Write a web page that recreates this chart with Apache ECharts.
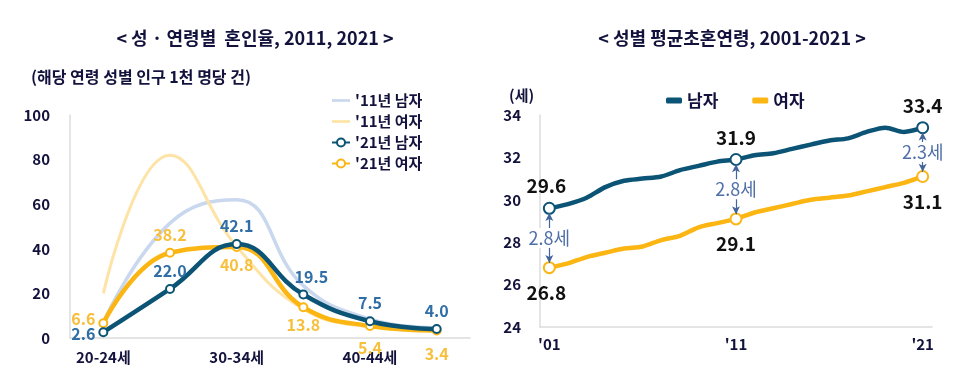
<!DOCTYPE html>
<html><head><meta charset="utf-8">
<script src="https://cdn.jsdelivr.net/npm/echarts@6/dist/echarts.min.js"></script>
<style>html,body{margin:0;padding:0;background:#fff}#c{width:964px;height:385px}</style>
</head><body><div id="c"></div>
<script>
// ---- Left chart data ----
const ageCats = ['20-24세','25-29세','30-34세','35-39세','40-44세','45-49세'];
const male2011 = [7.0, 51.5, 62.0, 23.5, 8.5, 4.5];
const female2011 = [20.0, 82.0, 41.0, 13.0, 5.0, 3.2];
const male2021 = [2.6, 22.0, 42.1, 19.5, 7.5, 4.0];
const female2021 = [6.6, 38.2, 40.8, 13.8, 5.4, 3.4];
const leftYTicks = [0, 20, 40, 60, 80, 100];

// ---- Right chart data ----
const years = ["'01","'02","'03","'04","'05","'06","'07","'08","'09","'10","'11","'12","'13","'14","'15","'16","'17","'18","'19","'20","'21"];
const maleAge = [29.6,29.8,30.1,30.6,30.9,31.0,31.1,31.4,31.6,31.8,31.9,32.1,32.2,32.4,32.6,32.8,32.9,33.2,33.4,33.2,33.4];
const femaleAge = [26.8,27.0,27.3,27.5,27.7,27.8,28.1,28.3,28.7,28.9,29.1,29.4,29.6,29.8,30.0,30.1,30.2,30.4,30.6,30.8,31.1];
const markIdx = [0, 10, 20];

const FONT = '"Noto Sans CJK KR", "Noto Sans", sans-serif';
const NAVY = '#12123c';
const C_M21 = '#0c5475', C_F21 = '#fbb614', C_M11 = '#c9d8ee', C_F11 = '#fde3a6';
const LBL_M = '#2f6ea6', LBL_F = '#f7bf3c';

const m21Pos = [{position:'left',offset:[2,2]},{position:'top'},{position:'top'},{position:'top',offset:[8,0]},{position:'top'},{position:'top'}];
const f21Pos = [{position:'left',offset:[2,-4]},{position:'top'},{position:'bottom'},{position:'bottom'},{position:'bottom',distance:9},{position:'bottom',distance:11}];

function leftData(vals, pos, color) {
  return vals.map((v, i) => ({value: v, label: Object.assign({show: true, color: color, fontSize: 16, fontWeight: 'bold', fontFamily: FONT,
    formatter: p => Number(p.value).toFixed(1)}, pos[i])}));
}

function rightData(vals, above) {
  return vals.map((v, i) => markIdx.includes(i)
    ? {value: v, label: {show: true, position: above ? 'top' : 'bottom', distance: above ? 6 : 9, offset: i === 0 ? [-3, 0] : [0, 0],
        color: '#111', fontSize: 19, fontWeight: 'bold', fontFamily: FONT, formatter: p => Number(p.value).toFixed(1)}}
    : {value: v, symbol: 'none'});
}

const gapLines = markIdx.map(i => [{coord: [i, maleAge[i] - 0.22]}, {coord: [i, femaleAge[i] + 0.22]}]);
const gapText = markIdx.map(i => ({coord: [i, (maleAge[i] + femaleAge[i]) / 2], value: (maleAge[i] - femaleAge[i]).toFixed(1) + '세'}));

const thinLine = 'path://M0,0 L20,0 L20,3 L0,3 Z';

const chart = echarts.init(document.getElementById('c'), null, {renderer: 'canvas'});
chart.setOption({
  animation: false,
  backgroundColor: '#fff',
  textStyle: {fontFamily: FONT},
  title: [
    {text: '< 성 · 연령별  혼인율, 2011, 2021 >', left: 250, top: 24, textAlign: 'center', textStyle: {fontSize: 18, fontWeight: 'bold', color: NAVY, fontFamily: FONT}},
    {text: '(해당 연령 성별 인구 1천 명당 건)', left: 26, top: 64, textStyle: {fontSize: 16, fontWeight: 'bold', color: NAVY, fontFamily: FONT}},
    {text: '< 성별 평균초혼연령, 2001-2021 >', left: 727, top: 24, textAlign: 'center', textStyle: {fontSize: 18, fontWeight: 'bold', color: NAVY, fontFamily: FONT}},
    {text: '(세)', left: 504, top: 83, textStyle: {fontSize: 15, fontWeight: 'bold', color: NAVY, fontFamily: FONT}}
  ],
  legend: [
    {data: [{name: "'11년 남자", icon: thinLine}, {name: "'11년 여자", icon: thinLine}, "'21년 남자", "'21년 여자"],
     orient: 'vertical', left: 326, top: 88, itemGap: 6, itemWidth: 18, itemHeight: 10,
     textStyle: {fontSize: 15, fontWeight: 'bold', color: NAVY, fontFamily: FONT}},
    {data: ['남자', '여자'], left: 661, top: 87, itemGap: 34, itemWidth: 16, itemHeight: 6, icon: 'roundRect',
     textStyle: {fontSize: 17, fontWeight: 'bold', color: NAVY, fontFamily: FONT}}
  ],
  grid: [
    {left: 70, right: 494, top: 115, bottom: 47},
    {left: 540, right: 32, top: 115, bottom: 58}
  ],
  xAxis: [
    {type: 'category', gridIndex: 0, data: ageCats, boundaryGap: true,
     axisLine: {lineStyle: {color: '#dcdcdc', width: 1.5}}, axisTick: {show: false},
     axisLabel: {interval: 1, margin: 12, fontSize: 15, fontWeight: 'bold', color: NAVY, fontFamily: FONT},
     splitLine: {show: false}},
    {type: 'category', gridIndex: 1, data: years, boundaryGap: true,
     axisLine: {lineStyle: {color: '#dcdcdc', width: 1.5}}, axisTick: {show: false},
     axisLabel: {interval: 9, margin: 10, fontSize: 15, fontWeight: 'bold', color: NAVY, fontFamily: FONT},
     splitLine: {show: false}}
  ],
  yAxis: [
    {type: 'value', gridIndex: 0, min: leftYTicks[0], max: leftYTicks[leftYTicks.length - 1], interval: 20,
     axisLine: {show: true, lineStyle: {color: '#dcdcdc', width: 1.5}}, axisTick: {show: false}, splitLine: {show: false},
     axisLabel: {margin: 20, fontSize: 15, fontWeight: 'bold', color: NAVY, fontFamily: FONT}},
    {type: 'value', gridIndex: 1, min: 24, max: 34, interval: 2,
     axisLine: {show: true, lineStyle: {color: '#dcdcdc', width: 1.5}}, axisTick: {show: false}, splitLine: {show: false},
     axisLabel: {margin: 19, fontSize: 15, fontWeight: 'bold', color: NAVY, fontFamily: FONT}}
  ],
  series: [
    {name: "'11년 남자", type: 'line', xAxisIndex: 0, yAxisIndex: 0, data: male2011, smooth: 0.45, symbol: 'none',
     lineStyle: {color: C_M11, width: 3.5}, itemStyle: {color: C_M11}, z: 1},
    {name: "'11년 여자", type: 'line', xAxisIndex: 0, yAxisIndex: 0, data: female2011, smooth: 0.45, symbol: 'none',
     lineStyle: {color: C_F11, width: 3}, itemStyle: {color: C_F11}, z: 1},
    {name: "'21년 여자", type: 'line', xAxisIndex: 0, yAxisIndex: 0, data: leftData(female2021, f21Pos, LBL_F), smooth: 0.45,
     symbol: 'emptyCircle', symbolSize: 8, lineStyle: {color: C_F21, width: 4.5}, itemStyle: {color: C_F21, borderWidth: 2}, z: 3},
    {name: "'21년 남자", type: 'line', xAxisIndex: 0, yAxisIndex: 0, data: leftData(male2021, m21Pos, LBL_M), smooth: 0.45,
     symbol: 'emptyCircle', symbolSize: 8, lineStyle: {color: C_M21, width: 4.5}, itemStyle: {color: C_M21, borderWidth: 2}, z: 4},

    {name: '남자', type: 'line', xAxisIndex: 1, yAxisIndex: 1, data: rightData(maleAge, true), smooth: 0.3,
     symbol: 'emptyCircle', symbolSize: 11, showAllSymbol: true,
     lineStyle: {color: C_M21, width: 4.5}, itemStyle: {color: C_M21, borderWidth: 2.5}, z: 4,
     markLine: {silent: true, symbol: ['arrow', 'arrow'], symbolSize: [6, 8], lineStyle: {color: '#44649c', width: 1.2, type: 'solid'},
       label: {show: false}, data: gapLines},
     markPoint: {silent: true, symbol: 'rect', symbolSize: 0, data: gapText,
       label: {show: true, position: 'inside', formatter: p => p.value, color: '#4f6fa8', fontSize: 18, fontFamily: FONT,
         backgroundColor: '#fff', padding: [1, 1]}}},
    {name: '여자', type: 'line', xAxisIndex: 1, yAxisIndex: 1, data: rightData(femaleAge, false), smooth: 0.3,
     symbol: 'emptyCircle', symbolSize: 11, showAllSymbol: true,
     lineStyle: {color: C_F21, width: 4.5}, itemStyle: {color: C_F21, borderWidth: 2.5}, z: 3}
  ]
});
</script>
</body></html>
